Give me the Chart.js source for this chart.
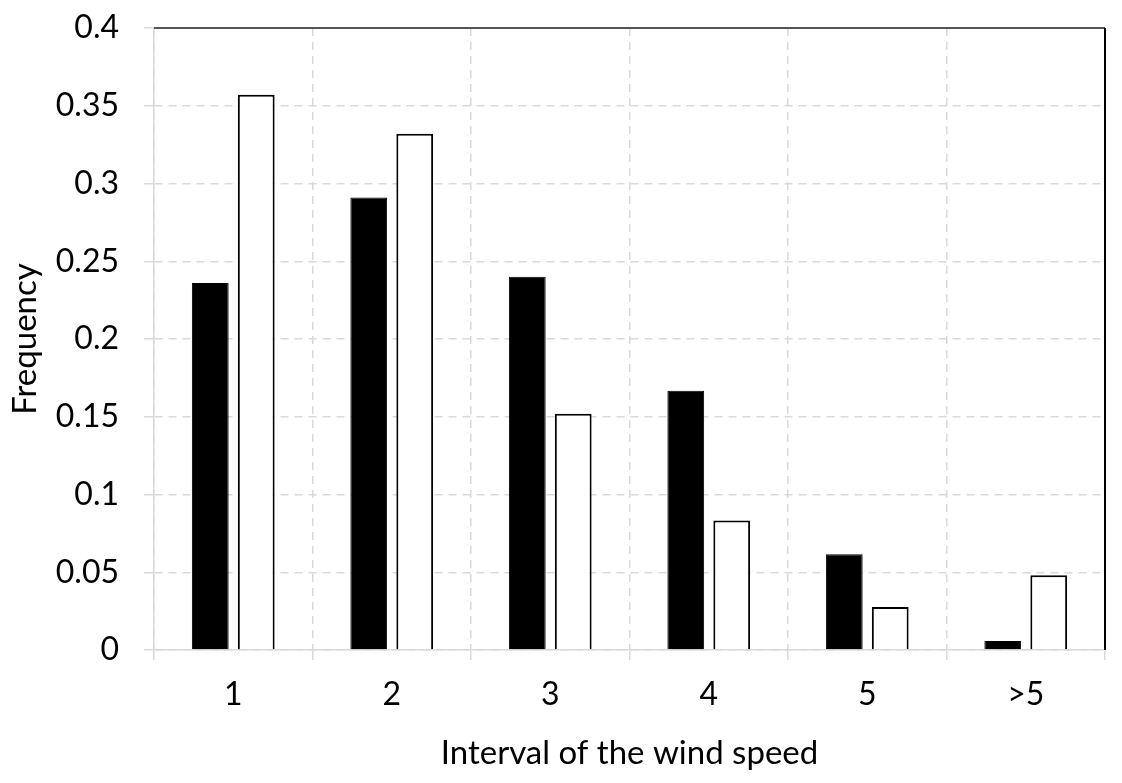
<!DOCTYPE html>
<html><head><meta charset="utf-8">
<script src="https://cdn.jsdelivr.net/npm/chart.js@4"></script>
<style>html,body{margin:0;padding:0;background:#fff}#w{width:1122px;height:783px;position:relative}</style>
</head><body><div id="w"><canvas id="c"></canvas></div>
<script>
const categories = ["1","2","3","4","5",">5"];
const seriesBlack = [0.236,0.291,0.240,0.1667,0.0615,0.0058];
const seriesWhite = [0.357,0.332,0.152,0.0833,0.0276,0.048];
const yTicks = [0,0.05,0.1,0.15,0.2,0.25,0.3,0.35,0.4];
const xTitle = "Interval of the wind speed";
const yTitle = "Frequency";

const FONT = "Lato, 'Open Sans', sans-serif";
const frame = {
  id:'frame',
  afterDatasetsDraw(chart){
    const a = chart.chartArea, ctx = chart.ctx;
    ctx.save();
    ctx.lineWidth = 2;
    ctx.strokeStyle = '#555';
    ctx.beginPath(); ctx.moveTo(a.left, a.top); ctx.lineTo(a.right, a.top); ctx.stroke();
    ctx.strokeStyle = '#000';
    ctx.beginPath(); ctx.moveTo(a.right, a.top); ctx.lineTo(a.right, a.bottom); ctx.stroke();
    ctx.restore();
  }
};
new Chart(document.getElementById('c'), {
  type:'bar',
  data:{labels:categories, datasets:[
    {data:seriesBlack, backgroundColor:'#000', borderColor:'#000', borderWidth:1},
    {data:seriesWhite, backgroundColor:'#fff', borderColor:'#000', borderWidth:2}
  ]},
  options:{
    responsive:true, maintainAspectRatio:false, animation:false,
    datasets:{bar:{categoryPercentage:0.58, barPercentage:0.8}},
    layout:{padding:{left:2,right:17,top:28,bottom:6}},
    plugins:{legend:{display:false}, tooltip:{enabled:false}},
    scales:{
      x:{
        offset:true,
        grid:{offset:true, color:'#d9d9d9', lineWidth:1.5, tickLength:10, tickColor:'#d9d9d9'},
        border:{display:true, color:'#d9d9d9', width:1.5, dash:[8,6]},
        ticks:{color:'#000', font:{family:FONT,size:32}, padding:15},
        title:{display:true, text:xTitle, color:'#000', font:{family:FONT,size:33}, padding:{top:5}}
      },
      y:{
        min:0, max:0.4,
        afterBuildTicks(ax){ ax.ticks = yTicks.map(v=>({value:v})); },
        afterFit(ax){ ax.width = 152; ax.paddingTop = 0; ax.paddingBottom = 0; },
        grid:{color:'#d9d9d9', lineWidth:1.5, tickLength:10, tickColor:'#d9d9d9'},
        border:{display:true, color:'#d9d9d9', width:1.5, dash:[8,6]},
        ticks:{color:'#000', font:{family:FONT,size:32}, padding:25, callback:v=>String(+v.toFixed(2))},
        title:{display:true, text:yTitle, color:'#000', font:{family:FONT,size:33}, padding:{bottom:0}}
      }
    }
  },
  plugins:[frame]
});
</script></body></html>
